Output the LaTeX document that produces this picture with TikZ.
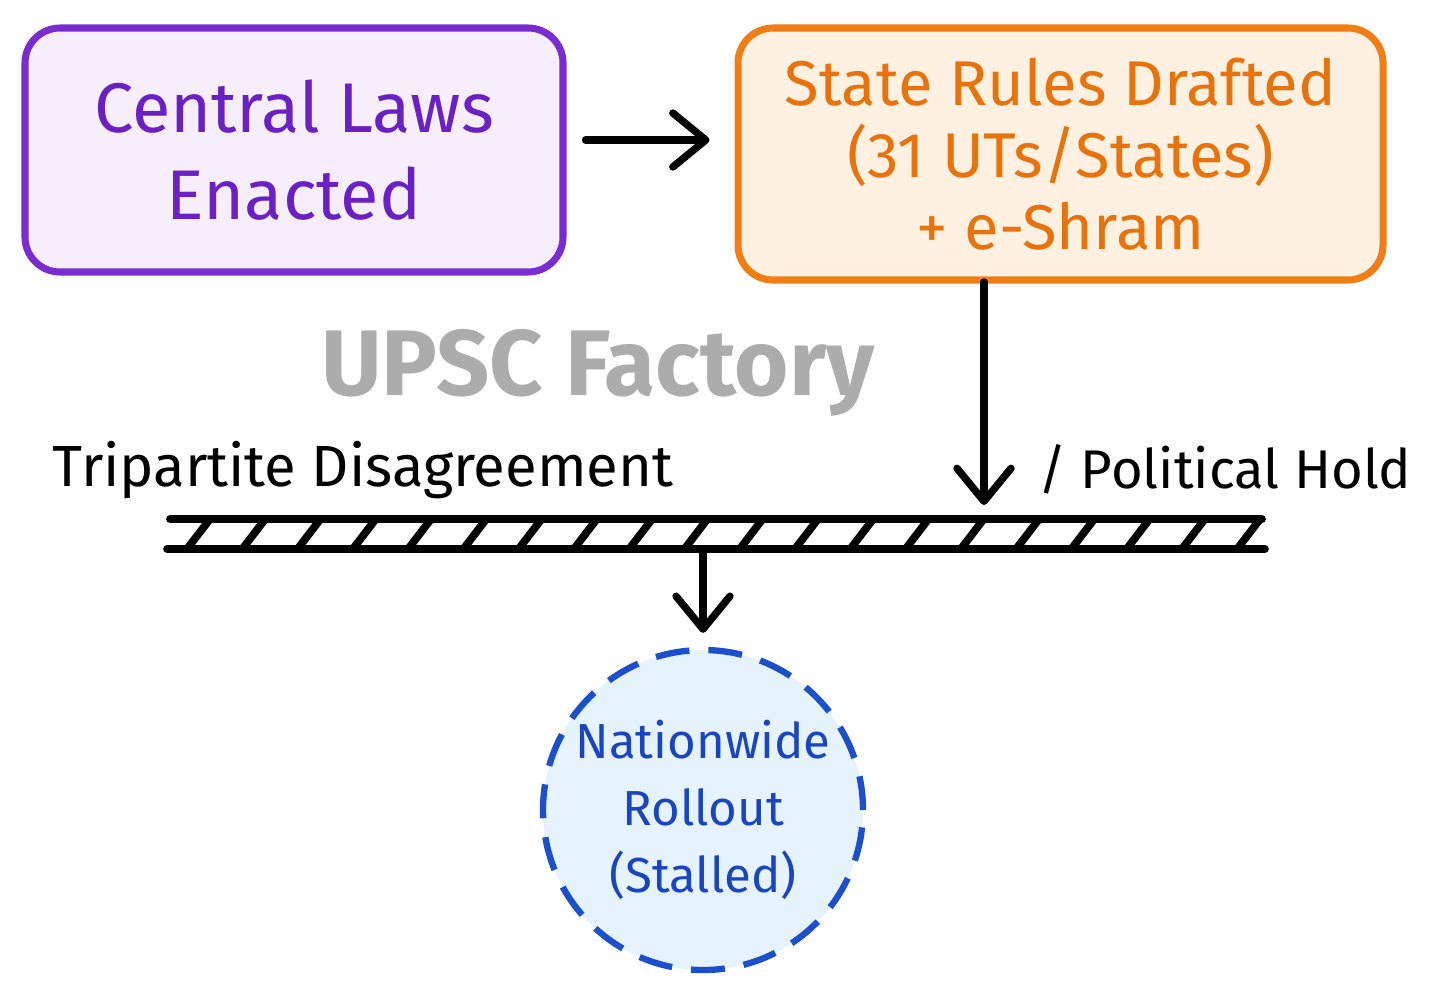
\documentclass[tikz,border=0pt]{standalone}
\usepackage{fontspec}
\setmainfont{Fira Sans}
\usetikzlibrary{arrows.meta}
\definecolor{lawline}{HTML}{7B2CD0}
\definecolor{lawtext}{HTML}{6A20C2}
\definecolor{lawfill}{HTML}{F6EEFB}
\definecolor{ruleline}{HTML}{F07E14}
\definecolor{ruletext}{HTML}{E8720C}
\definecolor{rulefill}{HTML}{FEF1E2}
\definecolor{outline}{HTML}{1B4FCB}
\definecolor{outtext}{HTML}{1A45C0}
\definecolor{outfill}{HTML}{E6F3FC}
\definecolor{mark}{HTML}{ACACAC}
\begin{document}
\begin{tikzpicture}[
  box/.style={rectangle,rounded corners=0.35cm,line width=2pt,align=center},
  arr/.style={line width=2.1pt,line cap=round,-{Straight Barb[length=3.3mm,width=5.4mm,line join=round,line cap=round]}},
  barline/.style={line width=2.2pt,line cap=round},
  label/.style={inner sep=0pt}]
\useasboundingbox[fill=white](0,0) rectangle (14.33,9.92);
%boxes
\node[box,draw=lawline,fill=lawfill,text=lawtext,minimum width=5.38cm,minimum height=2.44cm,
  font=\fontsize{20}{25}\selectfont] (central) at (2.94,8.42) {Central Laws\\Enacted};
\node[box,draw=ruleline,fill=rulefill,text=ruletext,minimum width=6.45cm,minimum height=2.52cm,
  font=\fontsize{18}{20.5}\selectfont] (state) at (10.605,8.38) {State Rules Drafted\\(31 UTs/States)\\+ e-Shram};
%outcome
\node[circle,draw=outline,fill=outfill,text=outtext,line width=1.8pt,dash pattern=on 0.34cm off 0.19cm,
  inner sep=0pt,minimum size=3.2cm,align=center,
  font=\fontsize{14}{19}\selectfont] (rollout) at (7.03,1.82) {Nationwide\\Rollout\\(Stalled)};
%watermark
\node[anchor=base,text=mark,inner sep=0pt,font=\fontsize{26.5}{30}\bfseries\selectfont] (brand) at (5.98,5.97) {UPSC Factory};
%barrier
\coordinate (barTL) at (1.70,4.73);
\coordinate (barTR) at (12.62,4.73);
\coordinate (barBL) at (1.67,4.43);
\coordinate (barBR) at (12.65,4.43);
\draw[barline] (barTL)--(barTR);
\draw[barline] (barBL)--(barBR);
\foreach \x in {0,...,19}
  \draw[barline] (1.87+\x*0.5527,4.43)--++(0.23,0.30);
\node[label,anchor=base west,font=\fontsize{16.5}{20}\selectfont] (tripartite) at (0.52,5.06) {Tripartite Disagreement};
\node[label,anchor=base east,font=\fontsize{15.5}{20}\selectfont] (hold) at (14.12,5.04) {/ Political Hold};
%arrows
\draw[arr,shorten <=0.19cm,shorten >=0.25cm] (central.east|-0,8.52)--(state.west|-0,8.52);
\coordinate (drop) at (9.84,7.10);
\coordinate (hit) at (9.84,4.73);
\draw[arr,shorten >=0.14cm] (drop)--(hit);
\coordinate (split) at (7.03,4.43);
\draw[arr,shorten >=0.14cm] (split)--(rollout.north);
\end{tikzpicture}
\end{document}
